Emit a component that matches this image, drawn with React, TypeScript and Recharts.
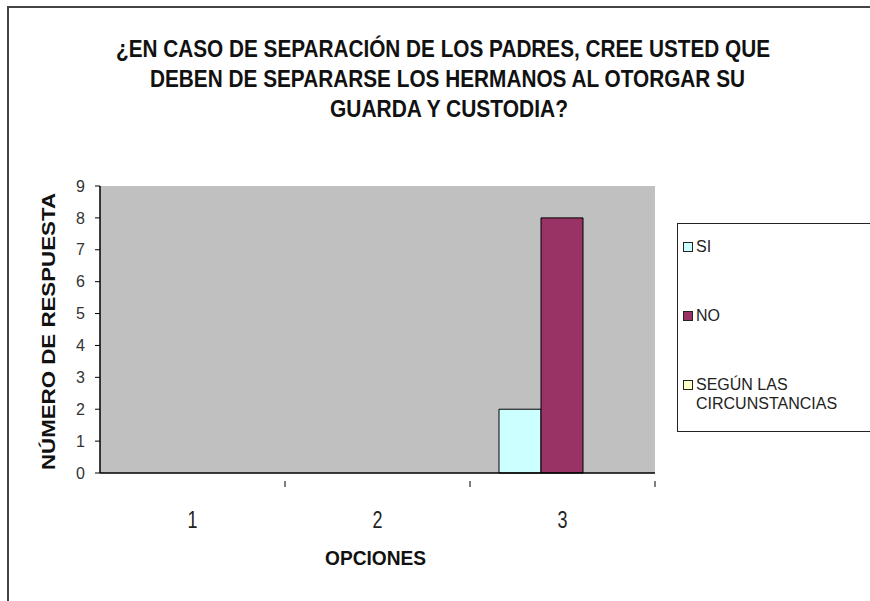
import { BarChart, Bar, XAxis, YAxis, CartesianGrid } from 'recharts';

// ==========================================
// DATA
// ==========================================

const categories = ['1', '2', '3'];
const siValues = [0, 0, 2];
const noValues = [0, 0, 8];
const segunValues = [0, 0, 0];
const yTicks = [0, 1, 2, 3, 4, 5, 6, 7, 8, 9];

const titleLines = [
  '¿EN CASO DE SEPARACIÓN DE LOS PADRES, CREE USTED QUE',
  'DEBEN DE SEPARARSE LOS HERMANOS AL OTORGAR SU',
  'GUARDA Y CUSTODIA?'
];

const series = [
  { key: 'si', name: 'SI', color: '#ccffff' },
  { key: 'no', name: 'NO', color: '#993366' },
  { key: 'segun', name: 'SEGÚN LAS CIRCUNSTANCIAS', color: '#ffffcc' }
];

const data = categories.map((c, i) => ({
  cat: c,
  si: siValues[i],
  no: noValues[i],
  segun: segunValues[i]
}));

// ==========================================
// LAYOUT
// ==========================================

const W = 870;
const H = 601;
const PLOT_LEFT = 100;
const PLOT_RIGHT = 655;
const PLOT_TOP = 186;
const PLOT_BOTTOM = 473;
const X_AXIS_H = 30;
const Y_AXIS_W = 40;
const arial = '"Liberation Sans", Arial, sans-serif';

// title line extents (x start, width, baseline), narrow bold look via textLength
const titleBoxes = [
  { x: 116, w: 654, y: 57 },
  { x: 150, w: 595, y: 87 },
  { x: 330, w: 238, y: 117 }
];

const halfBand = (PLOT_RIGHT - PLOT_LEFT) / categories.length / 2;

// category label at center, tick mark at the right edge of each band
function XTick(props: any) {
  const { x, y, payload } = props;
  return (
    <g>
      <line x1={x + halfBand} y1={y} x2={x + halfBand} y2={y + 6} stroke="#000" strokeWidth={1} />
      <text
        x={x - 5}
        y={y + 47}
        fontFamily={arial}
        fontSize={24}
        fill="#222"
        textLength={10}
        lengthAdjust="spacingAndGlyphs"
      >
        {payload.value}
      </text>
    </g>
  );
}

export default function App() {
  return (
    <div style={{ position: 'absolute', left: 0, top: 0, width: W, height: H, background: '#fff', overflow: 'hidden' }}>

      <div style={{ position: 'absolute', left: 0, top: 0 }}>
        <BarChart
          width={W}
          height={H}
          data={data}
          margin={{ top: PLOT_TOP, right: W - PLOT_RIGHT, bottom: H - PLOT_BOTTOM - X_AXIS_H, left: PLOT_LEFT - Y_AXIS_W }}
          barGap={0}
          barCategoryGap={29}
        >
          <CartesianGrid horizontal={false} vertical={false} fill="#c0c0c0" stroke="none" />
          <XAxis
            dataKey="cat"
            height={X_AXIS_H}
            tickLine={false}
            tick={<XTick />}
            axisLine={{ stroke: '#000', strokeWidth: 1.5 }}
          />
          <YAxis
            width={Y_AXIS_W}
            domain={[0, 9]}
            ticks={yTicks}
            interval={0}
            tickSize={5}
            tickMargin={10}
            tickLine={{ stroke: '#000' }}
            axisLine={{ stroke: '#000', strokeWidth: 1.5 }}
            tick={{ fontFamily: arial, fontSize: 16, fill: '#333' }}
          />
          {series.map(s => (
            <Bar key={s.key} dataKey={s.key} name={s.name} fill={s.color} stroke="#000" strokeWidth={1} isAnimationActive={false} />
          ))}
        </BarChart>
      </div>

      {/* titles */}
      <svg width={W} height={H} style={{ position: 'absolute', left: 0, top: 0, pointerEvents: 'none' }}>
        {/* outer frame, only left and top edges visible */}
        <line x1={8} y1={7} x2={8} y2={H} stroke="#444" strokeWidth={2} />
        <line x1={7} y1={7} x2={W} y2={7} stroke="#444" strokeWidth={2} />

        {titleLines.map((t, i) => (
          <text
            key={i}
            x={titleBoxes[i].x}
            y={titleBoxes[i].y}
            textLength={titleBoxes[i].w}
            lengthAdjust="spacingAndGlyphs"
            fontFamily={arial}
            fontWeight={700}
            fontSize={23}
            fill="#111"
          >
            {t}
          </text>
        ))}

        <text
          x={325}
          y={565}
          textLength={101}
          lengthAdjust="spacingAndGlyphs"
          fontFamily={arial}
          fontWeight={700}
          fontSize={20}
          fill="#111"
        >
          OPCIONES
        </text>

        <text
          transform="translate(55,470) rotate(-90)"
          x={0}
          y={0}
          textLength={277}
          lengthAdjust="spacingAndGlyphs"
          fontFamily={arial}
          fontWeight={700}
          fontSize={18}
          fill="#111"
        >
          NÚMERO DE RESPUESTA
        </text>
      </svg>

      {/* legend */}
      <div style={{
        position: 'absolute', left: 677, top: 223, width: 193, height: 209,
        borderLeft: '1.5px solid #222', borderTop: '1.5px solid #222', borderBottom: '1.5px solid #222',
        boxSizing: 'border-box', background: '#fff',
        fontFamily: arial, fontSize: 16, color: '#222'
      }}>
        {series.map((s, i) => (
          <div key={s.key} style={{ position: 'absolute', left: 5, top: 13 + i * 69, display: 'flex', alignItems: 'flex-start', lineHeight: '19px' }}>
            <span style={{ display: 'inline-block', width: 8, height: 8, marginTop: 5, marginRight: 3, background: s.color, border: '1px solid #222' }} />
            <span style={{ width: 180 }}>
              {s.key === 'segun' ? (<>SEGÚN LAS<br />CIRCUNSTANCIAS</>) : s.name}
            </span>
          </div>
        ))}
      </div>

    </div>
  );
}
